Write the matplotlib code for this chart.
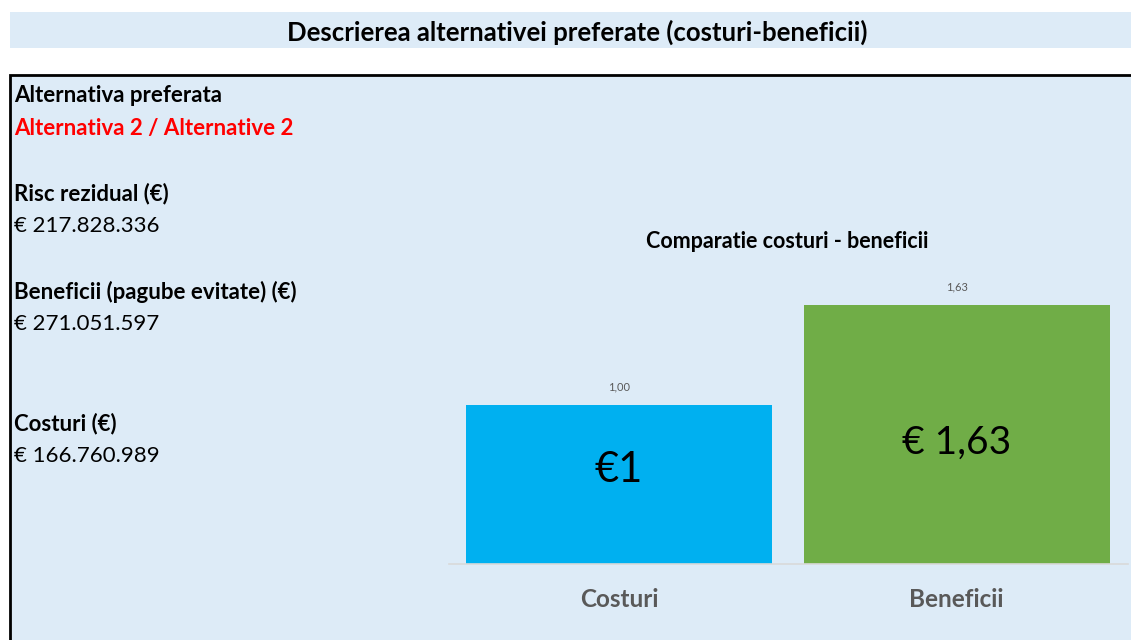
import matplotlib.pyplot as plt
from matplotlib.patches import Rectangle

W, H = 1131, 640

categorii = ["Costuri", "Beneficii"]
valori = [1.00, 1.63]
etichete_sus = ["1,00", "1,63"]
etichete_in = ["€1", "€ 1,63"]
culori = ["#00B0F0", "#70AD47"]

titlu = "Descrierea alternativei preferate (costuri-beneficii)"
titlu_grafic = "Comparatie costuri - beneficii"
# (text, y in pixeli, bold, culoare)
randuri = [
    ("Alternativa preferata", 96, True, "black"),
    ("Alternativa 2 / Alternative 2", 128, True, "#FF0000"),
    ("Risc rezidual (€)", 194, True, "black"),
    ("€ 217.828.336", 226, False, "black"),
    ("Beneficii (pagube evitate) (€)", 292, True, "black"),
    ("€ 271.051.597", 324, False, "black"),
    ("Costuri (€)", 424, True, "black"),
    ("€ 166.760.989", 456, False, "black"),
]

FONT = "Lato"
BG = "#DDEBF7"


def px(x, y):
    return x / W, 1 - y / H


def main():
    fig = plt.figure(figsize=(W / 100, H / 100), dpi=100)
    fig.patch.set_facecolor("white")

    # banda titlu
    fig.patches.append(Rectangle(px(10, 48), (W - 10) / W, 36 / H,
                                 transform=fig.transFigure, facecolor=BG,
                                 edgecolor="none", zorder=-10))
    fig.text(*px(577, 32), titlu, ha="center", va="center", fontsize=18.5,
             fontweight="bold", family=FONT, color="black")

    # panou
    fig.patches.append(Rectangle(px(10, 641), (W + 10) / W, 566 / H,
                                 transform=fig.transFigure, facecolor=BG,
                                 edgecolor="black", linewidth=2, zorder=-10))

    for text, y, bold, col in randuri:
        fig.text(*px(14, y), text, ha="left", va="center", fontsize=16,
                 fontweight="bold" if bold else "normal", family=FONT, color=col)

    # grafic
    ax = fig.add_axes([449 / W, 1 - 564 / H, (1128 - 449) / W, 318 / H])
    ax.set_zorder(5)
    ax.set_facecolor("none")
    x = range(len(categorii))
    bars = ax.bar(x, valori, width=0.907, color=culori, zorder=2)
    ax.set_xlim(-0.504, 1.508)
    ax.set_ylim(0, 2.0)
    for s in ["top", "right", "left"]:
        ax.spines[s].set_visible(False)
    ax.spines["bottom"].set_color("#D9D9D9")
    ax.spines["bottom"].set_linewidth(1.2)
    ax.set_yticks([])
    ax.set_xticks(list(x))
    ax.set_xticklabels(categorii, fontsize=17.5, fontweight="bold",
                       family=FONT, color="#595959")
    ax.tick_params(axis="x", length=0, pad=17)

    for b, v, ts in zip(bars, valori, etichete_sus):
        cx = b.get_x() + b.get_width() / 2
        ax.annotate(ts, (cx, v), xytext=(0, 9), textcoords="offset points",
                    ha="center", va="bottom", fontsize=8, color="#595959",
                    family=FONT)
    ax.text(0, 0.59, etichete_in[0], ha="center", va="center", fontsize=30,
            family=FONT, color="black")
    ax.text(1, 0.76, etichete_in[1], ha="center", va="center", fontsize=28,
            family=FONT, color="black")

    fig.text(*px(787, 241), titlu_grafic, ha="center", va="center",
             fontsize=15.5, fontweight="bold", family=FONT, color="black")

    fig.savefig("out.png", dpi=100, facecolor=fig.get_facecolor())


if __name__ == "__main__":
    main()
